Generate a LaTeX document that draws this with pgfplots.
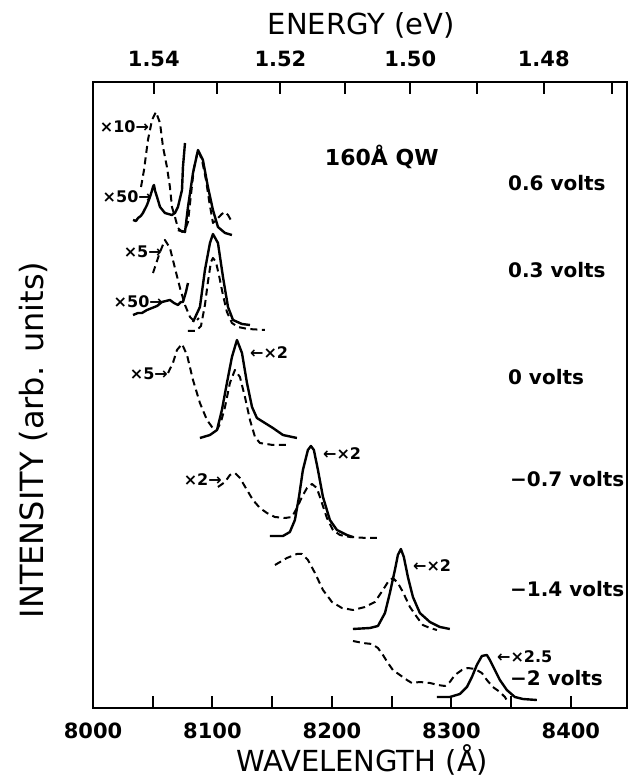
\documentclass[border=0pt]{standalone}
\usepackage{fontspec}
\setmainfont{DejaVu Sans}
\usepackage{pgfplots}
\pgfplotsset{compat=1.18}
\newcommand\lbl{\bfseries\fontsize{16}{16}\selectfont}
\newcommand\vlt{\bfseries\fontsize{20}{20}\selectfont}
\newcommand\axl{\fontsize{29}{29}\selectfont}
\begin{document}
\begin{tikzpicture}
% page frame, 631 x 783
\path (0pt,0pt) rectangle (631pt,783pt);
\pgfplotsset{
  frame base/.style={at={(93pt,75pt)}, anchor=south west, scale only axis,
    width=534pt, height=626pt, xmin=8000, xmax=8447, ymin=0, ymax=626,
    tick align=inside, major tick length=12pt, minor tick length=12pt,
    tick style={black, line width=2pt},
    /pgf/number format/assume math mode=true,
    ticklabel style={font=\bfseries\fontsize{21}{21}\selectfont, inner sep=0pt}},
  sol/.style={black, line width=2.4pt, line join=round, no markers},
  dsh/.style={black, line width=2pt, line join=round, dash pattern=on 7pt off 4.5pt, no markers},
}
% energy scale on top
\begin{axis}[frame base, axis x line*=top, axis y line=none,
    xtick={8050.9,8156.9,8265.6,8377.3}, xticklabels={1.54,1.52,1.50,1.48},
    minor xtick={8103.5,8210.9,8321.1,8434.3},
    xticklabel style={yshift=15pt},
    xlabel={ENERGY (eV)},
    xlabel style={font=\axl, at={(axis description cs:0.502,1.091)}, anchor=center}]
\end{axis}
\begin{axis}[frame base, clip=false, axis line style={line width=2.6pt},
    xtick pos=left, ytick=\empty,
    xtick={8000,8100,8200,8300,8400}, xticklabels={8000,8100,8200,8300,8400},
    minor xtick={8050,8150,8250,8350},
    xticklabel style={yshift=-15pt},
    xlabel={WAVELENGTH (Å)},
    xlabel style={font=\axl, at={(axis description cs:0.504,-0.083)}, anchor=center},
    ylabel={INTENSITY (arb. units)},
    ylabel style={font=\fontsize{32}{32}\selectfont, at={(axis description cs:-0.112,0.428)}, anchor=center}]

% 0.6 volts
\addplot[dsh] coordinates {(8040.2,521)(8042.7,538)(8046.0,568)(8049.4,588)(8052.7,596)
  (8056.1,585)(8058.6,561)(8061.9,541)(8064.4,521)(8066.1,501)(8068.6,491)(8071.1,480)
  (8074.5,476)(8077.0,478)(8079.5,486)(8082.0,513)(8084.5,540)(8087.9,558)(8091.2,548)
  (8094.6,528)(8097.1,508)(8100.4,485)(8104.6,490)(8107.9,494)(8110.5,496)(8113.0,493)(8116.3,486)};
\addplot[sol] coordinates {(8033.5,488)(8036.0,487)(8037.7,490)(8040.0,492)(8041.8,495)(8045.2,503)(8047.7,511)
  (8049.0,516)(8050.2,521)(8051.0,523)(8052.0,517)(8053.6,511)(8056.1,501)(8060.2,495)(8066.1,493)(8068.6,495)
  (8071.1,501)(8074.5,518)(8075.3,541)(8077.0,565)};
\addplot[sol] coordinates {(8071.1,478)(8077.0,476)(8079.5,501)(8083.7,535)(8087.9,558)
  (8092.0,548)(8096.2,521)(8100.4,498)(8104.6,481)(8110.5,475)(8116.3,473)};

% 0.3 volts
\addplot[dsh] coordinates {(8050.2,435)(8056.1,456)(8060.2,468)(8064.4,460)(8068.6,440)
  (8072.8,420)(8077.0,403)(8081.2,391)(8085.4,386)(8088.7,390)};
\addplot[dsh] coordinates {(8079.5,377)(8086.2,377)(8090.4,382)(8093.7,403)(8096.2,426)
  (8098.7,446)(8100.4,450)(8102.9,446)(8105.4,433)(8108.8,413)(8112.1,396)(8116.3,385)
  (8121.3,381)(8129.7,379)(8143.9,378)};
\addplot[sol] coordinates {(8033.5,393)(8037.7,395)(8041.0,395)(8045.2,398)(8049.4,400)
  (8053.6,402)(8057.7,406)(8061.1,407)(8064.4,408)(8067.8,405)(8071.1,403)(8073.6,406)
  (8075.3,406)(8077.8,416)(8079.5,425)};
\addplot[sol] coordinates {(8083.7,386)(8089.5,401)(8093.7,438)(8097.9,465)(8100.4,474)
  (8104.6,465)(8108.8,431)(8113.0,401)(8117.2,388)(8124.7,384)(8131.4,383)};

% 0 volts
\addplot[dsh] coordinates {(8062.8,335)(8066.9,345)(8070.3,358)(8074.5,364)(8078.7,353)
  (8083.7,328)(8089.5,305)(8095.4,288)(8099.6,281)(8103.8,278)(8107.1,286)(8110.5,301)
  (8114.6,325)(8118.8,338)(8123.0,331)(8127.2,311)(8131.4,288)(8135.6,271)(8139.7,265)
  (8150.6,263)(8164.8,263)};
\addplot[sol] coordinates {(8089.5,270)(8097.9,273)(8103.8,278)(8107.9,298)(8112.1,325)
  (8116.3,351)(8120.5,368)(8124.7,355)(8128.9,325)(8133.1,301)(8137.2,290)(8143.9,285)
  (8150.6,280)(8159.0,273)(8170.7,270)};

% -0.7 volts
\addplot[dsh] coordinates {(8104.6,221)(8110.5,226)(8114.6,233)(8118.8,235)(8123.0,230)
  (8128.9,218)(8133.9,208)(8139.7,200)(8145.6,195)(8152.3,191)(8160.7,190)(8166.5,191)
  (8170.7,200)(8174.9,211)(8179.1,220)(8183.3,224)(8187.4,220)(8191.6,205)(8195.8,190)
  (8200.8,178)(8206.7,173)(8215.1,171)(8229.3,170)(8237.7,170)};
\addplot[sol] coordinates {(8148.1,172)(8159.0,172)(8164.8,176)(8169.0,188)(8172.4,211)
  (8175.7,238)(8179.9,258)(8182.4,262)(8184.9,258)(8188.3,238)(8192.5,211)(8198.3,188)
  (8204.2,178)(8212.5,173)(8217.6,171)};

% -1.4 volts
\addplot[dsh] coordinates {(8152.3,143)(8162.3,150)(8170.7,154)(8174.9,154)(8179.9,148)
  (8185.8,135)(8192.5,118)(8200.0,106)(8208.4,100)(8217.6,98)(8227.6,101)(8236.0,106)
  (8242.7,118)(8246.9,126)(8251.0,130)(8255.2,125)(8259.4,116)(8265.3,101)(8271.1,91)
  (8276.1,83)(8282.0,80)(8287.9,78)};
\addplot[sol] coordinates {(8217.6,79)(8231.8,80)(8238.5,82)(8244.4,95)(8248.5,115)
  (8252.7,138)(8255.2,153)(8257.7,159)(8260.2,151)(8263.6,131)(8267.8,111)(8273.6,95)
  (8282.0,86)(8290.4,81)(8298.7,79)};

% -2 volts
\addplot[dsh] coordinates {(8217.6,67)(8225.9,65)(8233.5,64)(8238.5,60)(8242.7,53)
  (8246.9,45)(8251.0,38)(8256.9,33)(8262.8,28)(8266.9,25)(8273.6,26)(8282.0,25)
  (8288.7,23)(8294.6,22)(8298.7,26)(8302.9,33)(8308.8,38)(8313.8,40)(8319.7,39)
  (8325.5,35)(8329.7,28)(8334.7,21)(8340.6,16)(8344.8,11)(8347.3,6)};
\addplot[sol] coordinates {(8287.9,11)(8298.7,11)(8307.1,14)(8313.0,21)(8317.2,31)
  (8321.3,43)(8325.5,52)(8329.7,53)(8332.2,48)(8336.4,38)(8340.6,28)(8346.4,18)
  (8353.1,11)(8359.8,9)(8371.5,8)};

% magnification labels
\node[anchor=east, inner sep=0pt, font=\lbl] at (axis cs:8047,581) {×10→};
\node[anchor=east, inner sep=0pt, font=\lbl] at (axis cs:8049.4,511) {×50→};
\node[anchor=east, inner sep=0pt, font=\lbl] at (axis cs:8057.7,456) {×5→};
\node[anchor=east, inner sep=0pt, font=\lbl] at (axis cs:8058.6,406) {×50→};
\node[anchor=east, inner sep=0pt, font=\lbl] at (axis cs:8062.8,334) {×5→};
\node[anchor=west, inner sep=0pt, font=\lbl] at (axis cs:8131.4,355) {←×2};
\node[anchor=east, inner sep=0pt, font=\lbl] at (axis cs:8107.9,228) {×2→};
\node[anchor=west, inner sep=0pt, font=\lbl] at (axis cs:8192.5,254) {←×2};
\node[anchor=west, inner sep=0pt, font=\lbl] at (axis cs:8267.8,142) {←×2};
\node[anchor=west, inner sep=0pt, font=\lbl] at (axis cs:8338.1,51) {←×2.5};

% bias labels
\node[anchor=west, inner sep=0pt, font=\bfseries\fontsize{22}{22}\selectfont] at (axis cs:8194,551) {160Å QW};
\node[anchor=west, inner sep=0pt, font=\vlt] at (axis cs:8347.3,525) {0.6 volts};
\node[anchor=west, inner sep=0pt, font=\vlt] at (axis cs:8347.3,438) {0.3 volts};
\node[anchor=west, inner sep=0pt, font=\vlt] at (axis cs:8347.3,331) {0 volts};
\node[anchor=west, inner sep=0pt, font=\vlt] at (axis cs:8349,229) {−0.7 volts};
\node[anchor=west, inner sep=0pt, font=\vlt] at (axis cs:8349,119) {−1.4 volts};
\node[anchor=west, inner sep=0pt, font=\vlt] at (axis cs:8349,30) {−2 volts};
\end{axis}
\end{tikzpicture}
\end{document}
